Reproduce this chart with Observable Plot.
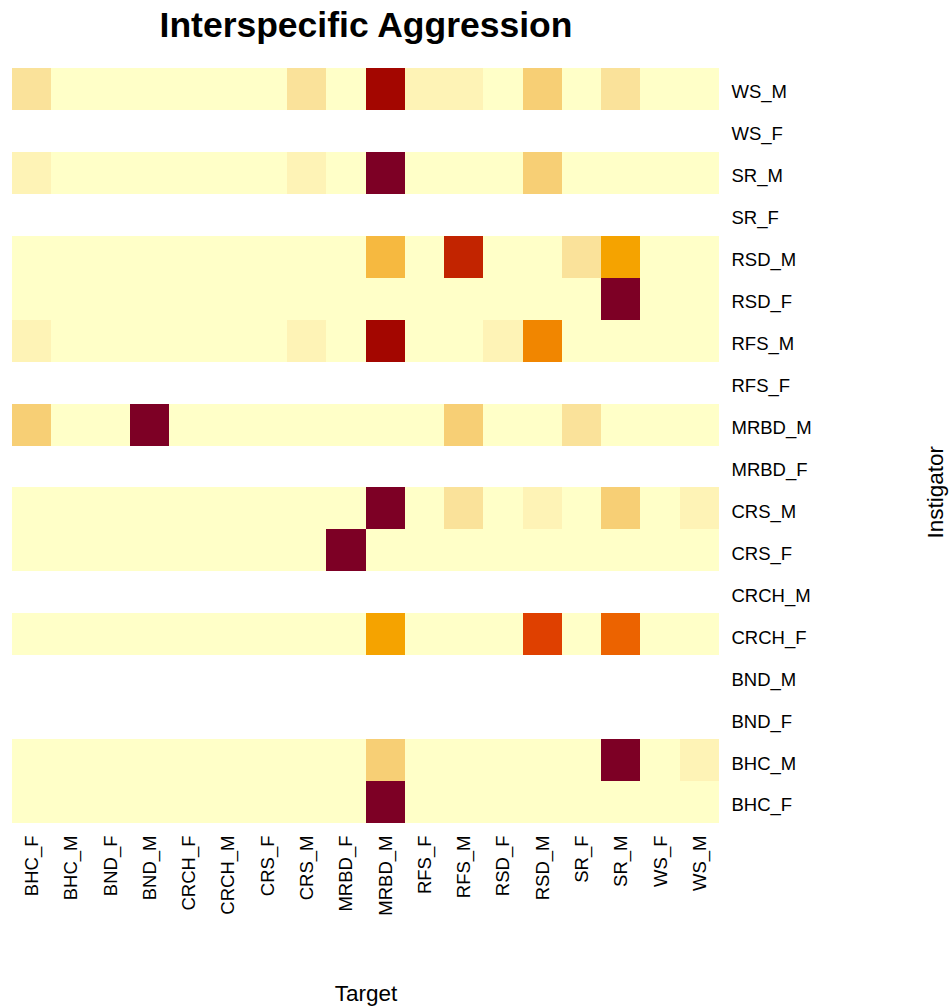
<!DOCTYPE html>
<html>
<head>
<meta charset="utf-8">
<script src="https://cdn.jsdelivr.net/npm/d3@7"></script>
<script src="https://cdn.jsdelivr.net/npm/@observablehq/plot@0.6"></script>
<style>
  html, body { margin: 0; padding: 0; background: #fff; overflow: hidden; }
  #chart svg { display: block; max-width: none !important; }
</style>
</head>
<body>
<div id="chart"></div>
<script>
// Target (columns, left to right)
const targets = ["BHC_F","BHC_M","BND_F","BND_M","CRCH_F","CRCH_M","CRS_F","CRS_M","MRBD_F","MRBD_M","RFS_F","RFS_M","RSD_F","RSD_M","SR_F","SR_M","WS_F","WS_M"];
// Instigator (rows, top to bottom)
const instigators = ["WS_M","WS_F","SR_M","SR_F","RSD_M","RSD_F","RFS_M","RFS_F","MRBD_M","MRBD_F","CRS_M","CRS_F","CRCH_M","CRCH_F","BND_M","BND_F","BHC_M","BHC_F"];
// colour level (0 = lowest, 11 = highest), null = missing (white)
const N = null;
const blank = [N,N,N,N,N,N,N,N,N,N,N,N,N,N,N,N,N,N];
const levels = [
  /* WS_M   */ [2,0,0,0,0,0,0,2,0,10,1,1,0,3,0,2,0,0],
  /* WS_F   */ blank,
  /* SR_M   */ [1,0,0,0,0,0,0,1,0,11,0,0,0,3,0,0,0,0],
  /* SR_F   */ blank,
  /* RSD_M  */ [0,0,0,0,0,0,0,0,0,4,0,9,0,0,2,5,0,0],
  /* RSD_F  */ [0,0,0,0,0,0,0,0,0,0,0,0,0,0,0,11,0,0],
  /* RFS_M  */ [1,0,0,0,0,0,0,1,0,10,0,0,1,6,0,0,0,0],
  /* RFS_F  */ blank,
  /* MRBD_M */ [3,0,0,11,0,0,0,0,0,0,0,3,0,0,2,0,0,0],
  /* MRBD_F */ blank,
  /* CRS_M  */ [0,0,0,0,0,0,0,0,0,11,0,2,0,1,0,3,0,1],
  /* CRS_F  */ [0,0,0,0,0,0,0,0,11,0,0,0,0,0,0,0,0,0],
  /* CRCH_M */ blank,
  /* CRCH_F */ [0,0,0,0,0,0,0,0,0,5,0,0,0,8,0,7,0,0],
  /* BND_M  */ blank,
  /* BND_F  */ blank,
  /* BHC_M  */ [0,0,0,0,0,0,0,0,0,3,0,0,0,0,0,11,0,1],
  /* BHC_F  */ [0,0,0,0,0,0,0,0,0,11,0,0,0,0,0,0,0,0]
];

const palette = ["#FFFFC8","#FEF3B6","#FAE29A","#F7CF75","#F6B940","#F5A300","#F18600","#EC6300","#DF4000","#C22400","#A30600","#7D0025"];

const data = [];
instigators.forEach((ins, i) => {
  targets.forEach((tg, j) => {
    const v = levels[i][j];
    if (v !== null) data.push({instigator: ins, target: tg, level: v});
  });
});

const font = "'Liberation Sans', Arial, sans-serif";

const chart = Plot.plot({
  width: 951,
  height: 1008,
  marginLeft: 12,
  marginRight: 232,
  marginTop: 68,
  marginBottom: 185,
  x: {domain: targets, padding: 0, round: false, axis: null},
  y: {domain: instigators, padding: 0, round: false, axis: null},
  color: {type: "ordinal", domain: d3.range(12), range: palette},
  style: {fontFamily: font, background: "#fff", color: "#000"},
  marks: [
    Plot.cell(data, {x: "target", y: "instigator", fill: "level", inset: 0, shapeRendering: "crispEdges"}),
    Plot.axisX({anchor: "bottom", tickSize: 0, tickPadding: 12, tickRotate: -90, fontSize: 18.5, label: null}),
    Plot.axisY({anchor: "right", tickSize: 0, tickPadding: 12, fontSize: 18.5, dy: 3, label: null}),
    Plot.text(["Interspecific Aggression"], {text: d => d, frameAnchor: "top", lineAnchor: "middle", dy: -43, fontSize: 35.5, fontWeight: "bold"}),
    Plot.text(["Target"], {text: d => d, frameAnchor: "bottom", lineAnchor: "middle", dy: 170, fontSize: 22.5}),
    Plot.text(["Instigator"], {text: d => d, frameAnchor: "right", dx: 216, rotate: -90, fontSize: 22.5})
  ]
});
document.getElementById("chart").appendChild(chart);
</script>
</body>
</html>
